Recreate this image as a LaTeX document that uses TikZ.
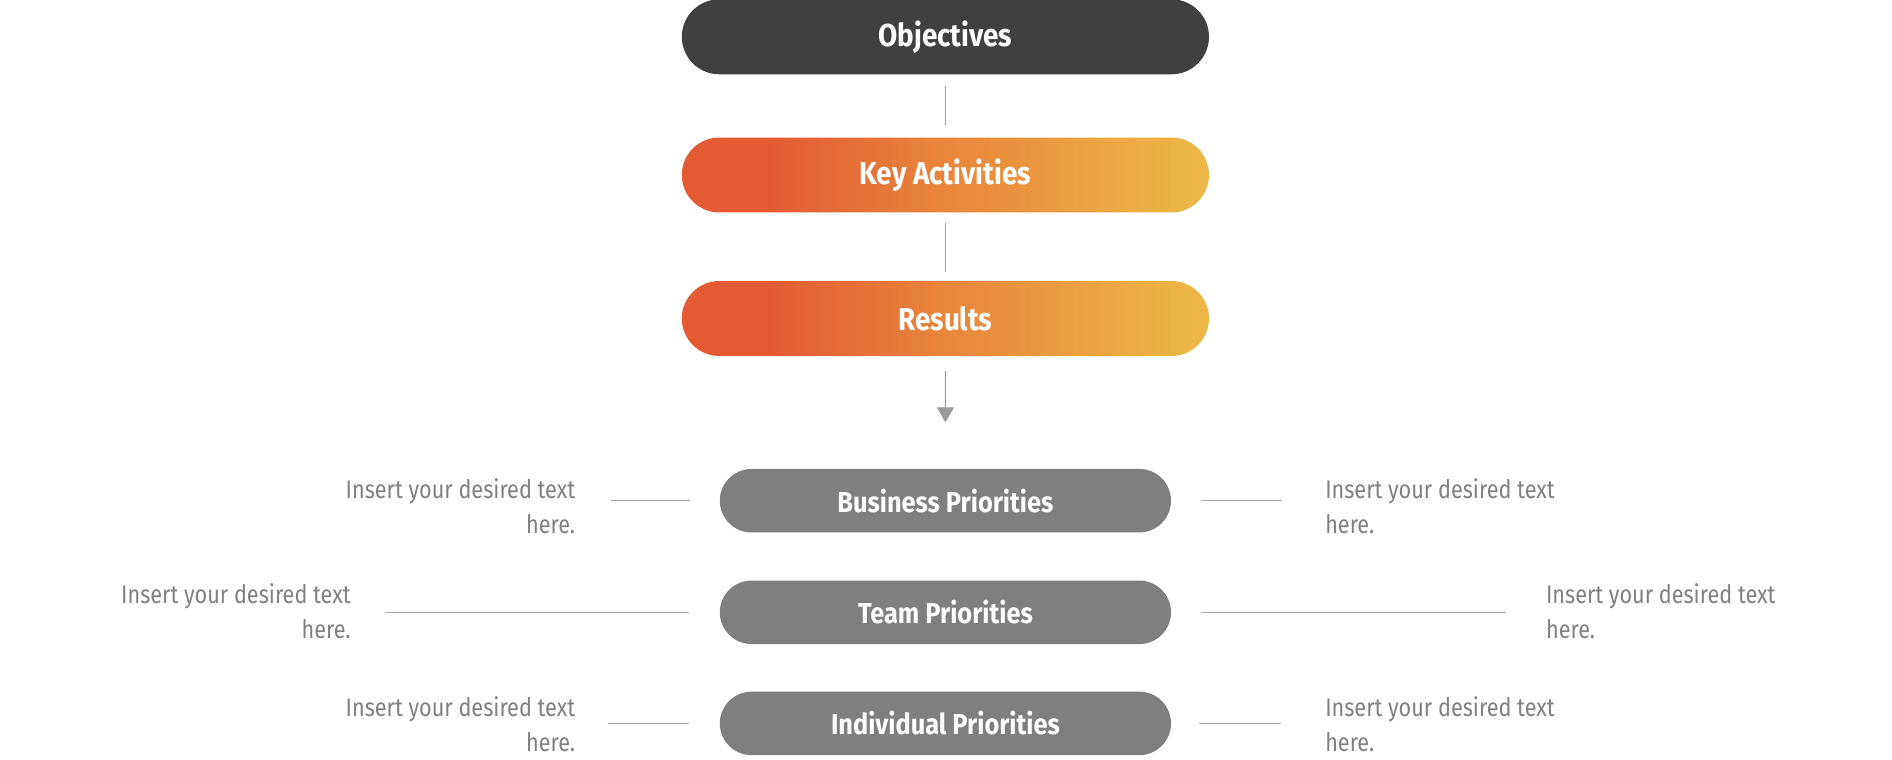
\documentclass[tikz,border=0pt]{standalone}
\usepackage{fontspec}
\setmainfont{Fira Sans}[FakeStretch=0.85]
\newfontfamily\pillfont{Fira Sans}[FakeStretch=0.88]
\usetikzlibrary{shapes.misc}
\usetikzlibrary{arrows.meta}

\definecolor{objgray}{RGB}{64,64,64}
\definecolor{prigray}{RGB}{127,127,127}
\definecolor{txtgray}{RGB}{128,128,128}
\definecolor{linegray}{RGB}{170,170,170}
\definecolor{arrgray}{RGB}{155,155,155}
\definecolor{gradA}{RGB}{227,90,51}
\definecolor{gradB}{RGB}{232,134,60}
\definecolor{gradC}{RGB}{237,182,70}
\pgfdeclarehorizontalshading{keygrad}{100bp}{color(0bp)=(gradA); color(33bp)=(gradA); color(50bp)=(gradB); color(73bp)=(gradC); color(100bp)=(gradC)}

\begin{document}
\begin{tikzpicture}[x=0.02cm,y=-0.02cm,
    bigpill/.style={rounded rectangle,minimum width=10.78cm,minimum height=1.5cm,text=white,font=\pillfont\fontsize{18}{22}\selectfont\bfseries},
    gradpill/.style={bigpill,shade,shading=keygrad},
    pripill/.style={rounded rectangle,minimum width=9.26cm,minimum height=1.27cm,fill=prigray,text=white,font=\pillfont\fontsize{16.4}{20}\selectfont\bfseries},
    sidetxt/.style={inner sep=0pt,text=txtgray,font=\fontsize{14.5}{20}\selectfont},
    conn/.style={draw=linegray,line width=0.6pt}]
        \useasboundingbox (0,0) rectangle (1892,760);

        \node[bigpill,fill=objgray] (obj) at (945.4,36.8) {Objectives};
        \node[gradpill] (key_act) at (945.4,175) {Key Activities};
        \node[gradpill] (res) at (945.4,318.5) {Results};
        \coordinate (arr_end) at (945.4,422.3);

        \node[pripill] (biz) at (945.4,500.7) {Business Priorities};
        \node[pripill] (team) at (945.4,612.3) {Team Priorities};
        \node[pripill] (indiv) at (945.4,723.4) {Individual Priorities};

        \node[sidetxt,anchor=east,align=right] (biz_l) at (575.5,506) {Insert your desired text\\here.};
        \node[sidetxt,anchor=east,align=right] (team_l) at (351,611) {Insert your desired text\\here.};
        \node[sidetxt,anchor=east,align=right] (indiv_l) at (575.5,724) {Insert your desired text\\here.};
        \node[sidetxt,anchor=west,align=left] (biz_r) at (1324.9,506) {Insert your desired text\\here.};
        \node[sidetxt,anchor=west,align=left] (team_r) at (1545.7,611) {Insert your desired text\\here.};
        \node[sidetxt,anchor=west,align=left] (indiv_r) at (1324.9,724) {Insert your desired text\\here.};

        \draw[conn,shorten <=0.23cm,shorten >=0.24cm] (obj) -- (key_act);
        \draw[conn,shorten <=0.19cm,shorten >=0.17cm] (key_act) -- (res);
        \draw[conn,draw=arrgray,-{Triangle[width=0.34cm,length=0.3cm]},fill=arrgray,shorten <=0.29cm] (res) -- (arr_end);

        \draw[conn,shorten <=0.58cm,shorten >=0.7cm] (biz.west) -- (biz.west -| biz_l.east);
        \draw[conn,shorten <=0.6cm,shorten >=0.68cm] (team.west) -- (team.west -| team_l.east);
        \draw[conn,shorten <=0.6cm,shorten >=0.65cm] (indiv.west) -- (indiv.west -| indiv_l.east);
        \draw[conn,shorten <=0.6cm,shorten >=0.85cm] (biz.east) -- (biz.east -| biz_r.west);
        \draw[conn,shorten <=0.6cm,shorten >=0.8cm] (team.east) -- (team.east -| team_r.west);
        \draw[conn,shorten <=0.56cm,shorten >=0.87cm] (indiv.east) -- (indiv.east -| indiv_r.west);

    \end{tikzpicture}
\end{document}
